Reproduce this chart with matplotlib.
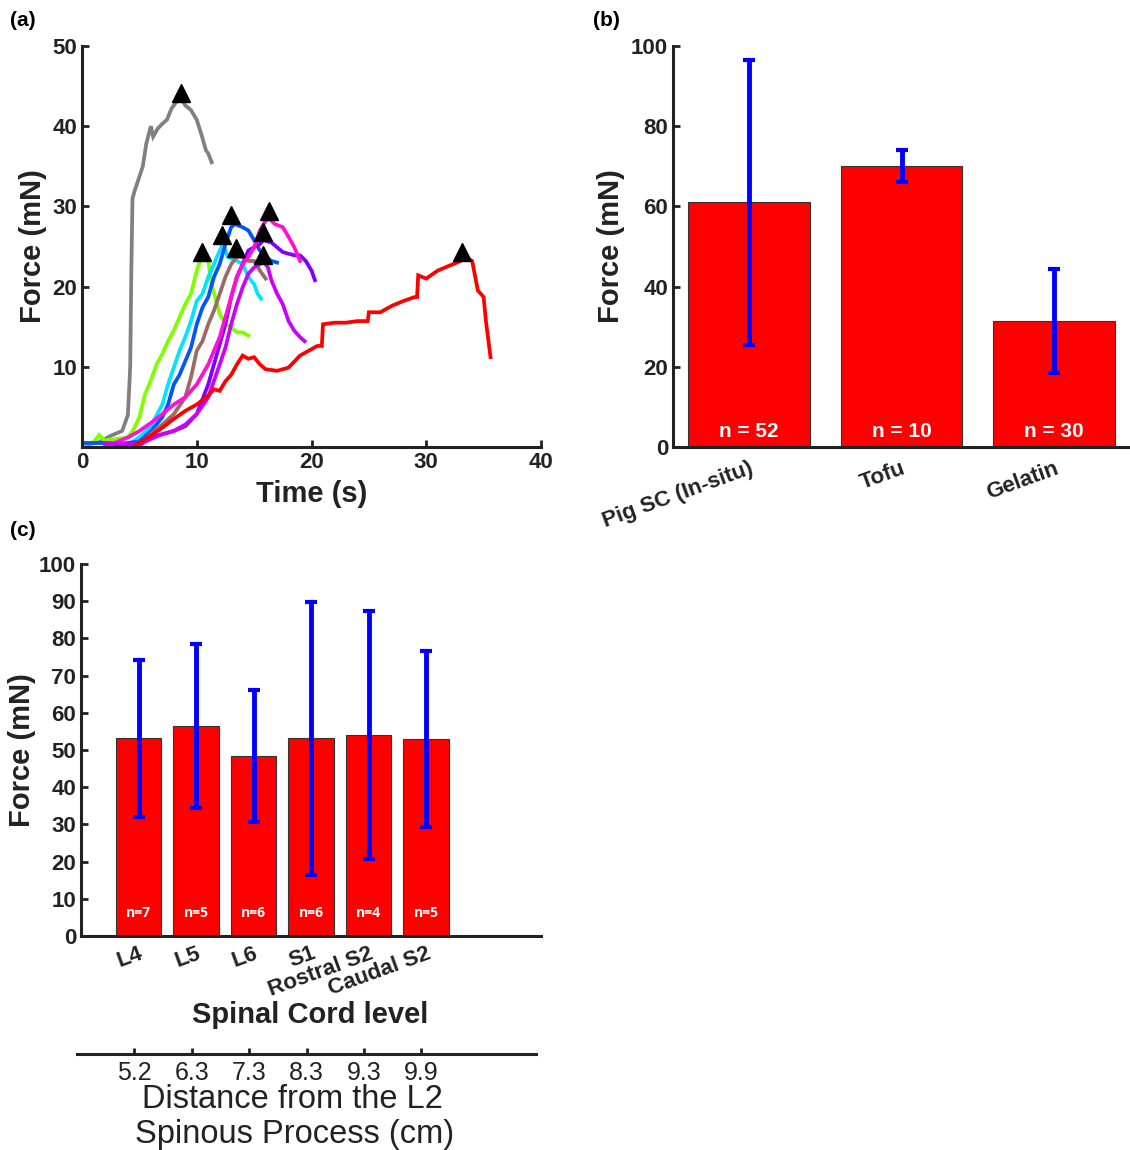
import matplotlib
matplotlib.use('Agg')
import matplotlib.pyplot as plt
import numpy as np

plt.rcParams['font.family'] = ['Liberation Sans', 'DejaVu Sans']

# ---- (a) force traces, time in s / force in mN ----
gray_t = [0, 1.5, 2.5, 3.5, 4.0, 4.2, 4.3, 4.4, 4.6, 5.0, 5.3, 5.6, 6.0, 6.2, 6.6, 7.0, 7.4, 7.8, 8.2, 8.6, 9.0, 9.5, 10.0, 10.4, 10.8, 11.0, 11.3]
gray_f = [0.2, 0.6, 1.4, 2.0, 4.0, 10.0, 22.0, 31.0, 32.0, 33.7, 35.0, 37.8, 40.0, 38.7, 39.7, 40.3, 40.8, 42.2, 43.0, 43.5, 42.6, 42.0, 40.8, 39.0, 37.0, 36.6, 35.5]

green_t = [0, 1.0, 1.5, 2.0, 3.0, 4.0, 4.5, 5.0, 5.5, 6.0, 6.5, 7.0, 7.5, 8.0, 8.5, 9.0, 9.5, 10.0, 10.3, 10.6, 11.0, 11.3, 11.6, 12.0, 12.5, 13.0, 13.5, 14.0, 14.5]
green_f = [0.3, 0.6, 1.5, 0.8, 1.0, 1.2, 2.2, 3.7, 6.6, 8.3, 10.3, 11.6, 13.2, 14.5, 16.2, 17.8, 19.1, 22.0, 23.2, 23.7, 23.2, 20.3, 18.7, 16.6, 15.3, 14.9, 14.3, 14.3, 13.9]

cyan_t = [3.0, 4.0, 5.0, 6.0, 7.0, 7.5, 8.0, 8.5, 9.0, 9.5, 10.0, 10.5, 11.0, 11.5, 12.0, 12.3, 12.7, 13.5, 14.0, 14.5, 15.0, 15.3, 15.6]
cyan_f = [0.0, 0.3, 1.2, 2.6, 5.3, 7.8, 9.9, 12.0, 13.7, 15.7, 18.2, 19.1, 21.2, 22.8, 24.5, 25.3, 23.7, 23.2, 22.8, 21.2, 20.3, 19.1, 18.5]

blue_t = [0, 2.0, 3.0, 4.0, 5.0, 6.0, 7.0, 7.5, 8.0, 8.5, 9.0, 9.5, 10.0, 10.5, 11.0, 11.5, 12.0, 12.5, 13.0, 13.3, 14.0, 14.5, 15.0, 15.5, 16.0, 16.5, 17.0]
blue_f = [0.5, 0.5, 0.4, 0.5, 0.7, 2.0, 3.7, 5.3, 7.8, 9.0, 10.7, 12.4, 15.3, 17.4, 18.7, 21.2, 22.8, 25.3, 27.4, 27.8, 27.4, 27.0, 25.8, 24.5, 23.7, 23.2, 23.0]

brown_t = [2.0, 5.0, 6.0, 7.0, 8.0, 9.0, 9.5, 10.0, 10.5, 11.0, 11.5, 12.0, 12.5, 13.0, 13.5, 14.0, 14.5, 15.0, 15.5, 16.0]
brown_f = [0.0, 0.0, 1.6, 2.8, 4.1, 6.2, 8.7, 12.0, 13.2, 15.3, 17.0, 19.1, 21.2, 22.8, 23.7, 23.7, 23.2, 23.2, 22.0, 21.0]

purple_t = [2.5, 5.0, 6.0, 7.0, 8.0, 9.0, 10.0, 11.0, 11.5, 12.0, 12.5, 13.0, 13.5, 14.0, 14.5, 15.0, 15.5, 15.8, 16.5, 17.0, 17.5, 18.0, 18.5, 19.0, 19.5, 20.0, 20.3]
purple_f = [0.0, 0.5, 1.2, 1.6, 2.0, 2.6, 4.1, 7.8, 10.3, 12.8, 15.3, 18.7, 21.2, 22.8, 24.5, 24.9, 25.3, 25.8, 25.5, 24.9, 24.3, 24.1, 23.9, 23.9, 23.2, 22.0, 20.8]

magenta_t = [2.0, 4.0, 5.0, 6.0, 7.0, 8.0, 9.0, 10.0, 11.0, 12.0, 12.5, 13.0, 13.5, 14.0, 14.5, 15.0, 15.5, 16.0, 16.3, 16.8, 17.5, 18.0, 18.5, 19.0]
magenta_f = [0.0, 1.2, 2.0, 3.0, 4.1, 5.3, 6.2, 7.8, 10.3, 13.7, 16.2, 18.7, 21.2, 22.8, 23.7, 24.9, 27.0, 28.2, 28.5, 27.8, 27.4, 26.2, 24.9, 23.2]

orchid_t = [2.0, 5.0, 6.0, 7.0, 8.0, 9.0, 10.0, 11.0, 12.0, 12.5, 13.0, 13.5, 14.0, 14.5, 15.0, 15.5, 15.8, 16.2, 16.5, 17.0, 17.5, 18.0, 18.5, 19.0, 19.4]
orchid_f = [0.5, 0.3, 1.0, 1.6, 2.0, 2.8, 4.1, 6.2, 10.3, 12.4, 15.3, 17.8, 19.9, 21.6, 22.4, 22.8, 23.2, 22.4, 20.8, 19.1, 17.8, 15.7, 14.5, 13.7, 13.2]

red_t = [4.5, 5.0, 6.0, 7.0, 8.0, 9.0, 10.0, 11.0, 11.5, 12.0, 12.5, 13.0, 13.5, 14.0, 14.5, 15.0, 15.5, 16.0, 17.0, 18.0, 19.0, 20.0, 20.5, 20.9, 21.0, 22.0, 23.0, 24.0, 24.9, 25.0, 26.0, 27.0, 28.0, 29.0, 29.2, 29.3, 30.0, 31.0, 32.0, 33.0, 33.5, 34.0, 34.5, 35.0, 35.2, 35.6]
red_f = [0.0, 0.5, 1.4, 2.4, 3.5, 4.5, 5.3, 6.4, 7.2, 7.0, 8.2, 9.0, 10.3, 11.4, 11.0, 11.2, 10.3, 9.7, 9.5, 9.9, 11.4, 12.2, 12.6, 12.6, 15.3, 15.5, 15.5, 15.7, 15.7, 16.8, 16.8, 17.6, 18.2, 18.7, 18.7, 21.4, 21.0, 22.0, 22.6, 23.2, 23.6, 23.2, 19.5, 18.7, 15.7, 11.2]

# peak markers
peak_t = [8.6, 10.5, 12.2, 13.0, 13.4, 15.8, 16.3, 15.8, 33.1]
peak_f = [44.1, 24.3, 26.4, 28.9, 24.8, 26.8, 29.4, 23.9, 24.3]

# ---- (b) materials ----
materials = ['Pig SC (In-situ)', 'Tofu', 'Gelatin']
mat_force = [61.0, 70.0, 31.4]
mat_err = [35.5, 4.0, 13.0]
mat_n = ['n = 52', 'n = 10', 'n = 30']

# ---- (c) spinal cord levels ----
levels = ['L4', 'L5', 'L6', 'S1', 'Rostral S2', 'Caudal S2']
level_force = [53.1, 56.5, 48.4, 53.1, 54.1, 52.9]
level_err = [21.1, 22.1, 17.8, 36.6, 33.3, 23.6]
level_n = ['n=7', 'n=5', 'n=6', 'n=6', 'n=4', 'n=5']
distance = ['5.2', '6.3', '7.3', '8.3', '9.3', '9.9']

W, H = 1130, 1150
fig = plt.figure(figsize=(W / 100, H / 100), dpi=100)
INK = '#222222'


def box(x0, y0, x1, y1):
    # pixel box (top-left origin) -> figure fraction rect
    return [x0 / W, 1 - y1 / H, (x1 - x0) / W, (y1 - y0) / H]


def style(ax):
    for s in ['top', 'right']:
        ax.spines[s].set_visible(False)
    for s in ['left', 'bottom']:
        ax.spines[s].set_linewidth(2.2)
        ax.spines[s].set_color(INK)
    ax.tick_params(direction='in', width=2, length=5, labelsize=16, colors=INK)
    for lab in ax.get_xticklabels() + ax.get_yticklabels():
        lab.set_fontweight('bold')


def slant(ax, pad):
    ax.tick_params(axis='x', length=0, pad=pad)
    for lab in ax.get_xticklabels():
        lab.set_rotation(20)
        lab.set_ha('right')
        lab.set_va('top')
        lab.set_rotation_mode('anchor')
        lab.set_fontsize(16)


# (a)
ax1 = fig.add_axes(box(82, 46, 541, 447))
traces = [
    (gray_t, gray_f, '#808080'),
    (green_t, green_f, '#7FFF00'),
    (cyan_t, cyan_f, '#00E5FF'),
    (blue_t, blue_f, '#0055FF'),
    (brown_t, brown_f, '#9C6A66'),
    (purple_t, purple_f, '#8000FF'),
    (magenta_t, magenta_f, '#FF10D8'),
    (orchid_t, orchid_f, '#CC00FF'),
    (red_t, red_f, '#FF0000'),
]
for t, f, c in traces:
    ax1.plot(t, f, color=c, lw=2.7, solid_joinstyle='miter')
ax1.plot(peak_t, peak_f, '^', color='black', ms=13, ls='none', zorder=5)
ax1.set_xlim(0, 40)
ax1.set_ylim(0, 50)
ax1.set_xticks([0, 10, 20, 30, 40])
ax1.set_yticks([10, 20, 30, 40, 50])
style(ax1)
ax1.set_xlabel('Time (s)', fontsize=21, fontweight='bold', labelpad=5, color=INK)
ax1.set_ylabel('Force (mN)', fontsize=21, fontweight='bold', labelpad=4, color=INK)

# (b)
ax2 = fig.add_axes(box(673, 46, 1130, 447))
xb = np.arange(1, len(materials) + 1)
ax2.bar(xb, mat_force, width=0.8, color='#FF0000', edgecolor='#333333', linewidth=0.8)
ax2.errorbar(xb, mat_force, yerr=mat_err, fmt='none', ecolor='#0000FF', elinewidth=3.5,
             capsize=4, capthick=3)
for x, lab in zip(xb, mat_n):
    ax2.text(x, 3.8, lab, ha='center', va='center', color='white', fontsize=15, fontweight='bold')
ax2.set_xlim(0.5, 3.5)
ax2.set_ylim(0, 100)
ax2.set_yticks([0, 20, 40, 60, 80, 100])
ax2.set_xticks(xb)
ax2.set_xticklabels(materials)
style(ax2)
slant(ax2, 8)
ax2.set_ylabel('Force (mN)', fontsize=21, fontweight='bold', labelpad=4, color=INK)

# (c)
ax3 = fig.add_axes(box(81, 564, 541, 936))
xc = np.arange(1, len(levels) + 1)
ax3.bar(xc, level_force, width=0.79, color='#FF0000', edgecolor='#333333', linewidth=0.8)
ax3.errorbar(xc, level_force, yerr=level_err, fmt='none', ecolor='#0000FF', elinewidth=3.5,
             capsize=4, capthick=3)
for x, lab in zip(xc, level_n):
    ax3.text(x, 6.3, lab, ha='center', va='center', color='white', fontsize=10,
             fontweight='bold', family='Open Sans')
ax3.set_xlim(0, 8)
ax3.set_ylim(0, 100)
ax3.set_yticks(np.arange(0, 101, 10))
ax3.set_xticks(xc)
ax3.set_xticklabels(levels)
style(ax3)
slant(ax3, 5)
ax3.set_ylabel('Force (mN)', fontsize=21, fontweight='bold', labelpad=2, color=INK)
fig.text(310 / W, 1 - 1015 / H, 'Spinal Cord level', ha='center', va='center',
         fontsize=21, fontweight='bold', color=INK)

# distance axis under (c)
ax4 = fig.add_axes(box(77, 1053, 536, 1054))
ax4.set_xlim(0, 8)
ax4.set_ylim(0, 1)
ax4.set_yticks([])
for s in ['top', 'right', 'left']:
    ax4.spines[s].set_visible(False)
ax4.spines['bottom'].set_linewidth(2.2)
ax4.spines['bottom'].set_color(INK)
ax4.set_xticks(xc)
ax4.set_xticklabels(distance)
ax4.tick_params(axis='x', direction='in', width=2, length=4, labelsize=18, colors=INK, pad=5)
fig.text(292 / W, 1 - 1100 / H, 'Distance from the L2', ha='center', va='center',
         fontsize=23.5, color=INK)
fig.text(295 / W, 1 - 1134 / H, 'Spinous Process (cm)', ha='center', va='center',
         fontsize=23.5, color=INK)

fig.text(10 / W, 1 - 20 / H, '(a)', fontsize=15, fontweight='bold', va='center')
fig.text(593 / W, 1 - 20 / H, '(b)', fontsize=15, fontweight='bold', va='center')
fig.text(10 / W, 1 - 530 / H, '(c)', fontsize=15, fontweight='bold', va='center')

fig.savefig('out.png', dpi=100)
